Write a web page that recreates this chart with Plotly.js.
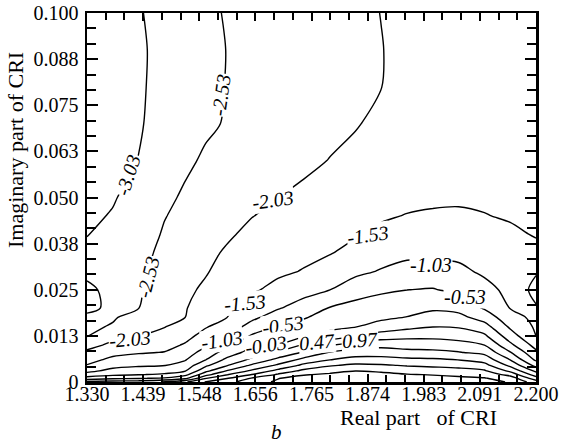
<!DOCTYPE html>
<html>
<head>
<meta charset="utf-8">
<script src="https://cdn.plot.ly/plotly-3.0.1.min.js"></script>
<style>html,body{margin:0;padding:0;background:#fff;}#chart{width:568px;height:445px;}</style>
</head>
<body>
<div id="chart"></div>
<script>
// Real part of CRI (grid columns)
const realPart = [1.33, 1.38, 1.43, 1.48, 1.52, 1.56, 1.60, 1.65, 1.70, 1.75, 1.80, 1.85, 1.90, 1.95, 2.00, 2.05, 2.10, 2.15, 2.20];
// Imaginary part of CRI (grid rows)
const imagPart = [0, 0.001, 0.002, 0.003, 0.0045, 0.006, 0.008, 0.010, 0.0125, 0.015, 0.0175, 0.020, 0.025, 0.030, 0.035, 0.040, 0.045, 0.050, 0.060, 0.070, 0.080, 0.090, 0.100];
// Field values, one array per row (imagPart order)
const row00 = [0.6, 0.7, 0.75, 1.0, 1.4, 2.0, 2.3, 2.75, 3.05, 3.25, 3.35, 3.4, 3.36, 3.28, 3.2, 3.12, 3.05, 2.95, 2.2];
const row01 = [-0.31, -0.147, -0.06, 0.03, 0.353, 1.434, 1.94, 2.52, 2.948, 3.15, 3.25, 3.3, 3.27, 3.2, 3.1, 3.05, 3.0, 2.758, 1.687];
const row02 = [-0.83, -0.63, -0.555, -0.455, -0.186, 0.798, 1.42, 1.984, 2.537, 2.934, 3.05, 3.15, 3.1, 3.0, 2.95, 2.883, 2.8, 2.295, 1.23];
const row03 = [-1.16, -0.89, -0.786, -0.724, -0.559, 0.332, 0.993, 1.57, 2.126, 2.597, 2.82, 2.963, 2.897, 2.776, 2.714, 2.651, 2.534, 1.86, 0.86];
const row04 = [-1.505, -1.18, -1.092, -1.05, -0.82, -0.127, 0.416, 1.059, 1.56, 2.097, 2.42, 2.57, 2.53, 2.433, 2.376, 2.308, 2.141, 1.356, 0.31];
const row05 = [-1.69, -1.41, -1.303, -1.248, -1.061, -0.534, 0.084, 0.589, 1.116, 1.628, 1.964, 2.177, 2.163, 2.089, 2.052, 1.964, 1.776, 0.964, -0.117];
const row06 = [-1.92, -1.67, -1.572, -1.512, -1.271, -0.83, -0.323, 0.184, 0.577, 1.026, 1.501, 1.689, 1.72, 1.626, 1.595, 1.501, 1.345, 0.501, -0.426];
const row07 = [-2.225, -1.90, -1.777, -1.685, -1.482, -1.099, -0.673, -0.135, -0.022, 0.541, 0.926, 1.21, 1.325, 1.266, 1.235, 1.156, 0.975, 0.087, -0.705];
const row08 = [-2.56, -2.197, -2.032, -1.891, -1.678, -1.361, -1.045, -0.468, -0.269, -0.101, 0.143, 0.41, 0.708, 0.83, 0.841, 0.774, 0.556, -0.297, -1.035];
const row09 = [-2.6, -2.50, -2.211, -2.045, -1.861, -1.565, -1.32, -0.847, -0.514, -0.337, -0.154, -0.05, 0.151, 0.326, 0.457, 0.423, 0.162, -0.61, -1.1];
const row10 = [-2.6, -2.565, -2.388, -2.088, -2.032, -1.661, -1.544, -1.132, -0.799, -0.573, -0.328, -0.205, -0.117, -0.015, 0.158, 0.117, -0.239, -0.847, -1.15];
const row11 = [-2.45, -2.605, -2.536, -2.132, -2.065, -1.757, -1.607, -1.328, -1.064, -0.819, -0.502, -0.359, -0.277, -0.192, -0.103, -0.18, -0.577, -1.042, -1.045];
const row12 = [-2.42, -2.685, -2.595, -2.219, -2.131, -1.949, -1.732, -1.585, -1.413, -1.203, -1.038, -0.758, -0.609, -0.535, -0.5, -0.642, -0.888, -1.15, -0.98];
const row13 = [-2.65, -2.765, -2.655, -2.306, -2.198, -2.068, -1.858, -1.699, -1.602, -1.509, -1.323, -1.148, -0.995, -0.875, -0.867, -0.93, -1.105, -1.259, -1.045];
const row14 = [-2.96, -2.844, -2.714, -2.393, -2.264, -2.134, -1.983, -1.813, -1.71, -1.624, -1.555, -1.398, -1.232, -1.134, -1.127, -1.14, -1.243, -1.367, -1.45];
const row15 = [-3.04, -2.925, -2.774, -2.481, -2.33, -2.2, -2.092, -1.927, -1.818, -1.726, -1.648, -1.57, -1.451, -1.325, -1.305, -1.311, -1.381, -1.475, -1.55];
const row16 = [-3.1, -3.004, -2.833, -2.55, -2.396, -2.266, -2.19, -2.04, -1.925, -1.827, -1.74, -1.653, -1.574, -1.515, -1.482, -1.48, -1.519, -1.56, -1.58];
const row17 = [-3.17, -3.06, -2.89, -2.636, -2.462, -2.332, -2.26, -2.124, -2.033, -1.928, -1.833, -1.737, -1.644, -1.62, -1.6, -1.58, -1.58, -1.6, -1.62];
const row18 = [-3.28, -3.15, -3.022, -2.80, -2.618, -2.464, -2.416, -2.321, -2.227, -2.133, -2.018, -1.904, -1.783, -1.75, -1.7, -1.66, -1.65, -1.65, -1.66];
const row19 = [-3.36, -3.22, -3.066, -2.885, -2.746, -2.606, -2.499, -2.411, -2.324, -2.237, -2.15, -2.062, -1.922, -1.86, -1.79, -1.74, -1.71, -1.7, -1.69];
const row20 = [-3.41, -3.25, -3.08, -2.91, -2.775, -2.648, -2.517, -2.436, -2.357, -2.277, -2.197, -2.117, -2.035, -1.91, -1.84, -1.78, -1.75, -1.73, -1.71];
const row21 = [-3.43, -3.26, -3.086, -2.92, -2.786, -2.654, -2.526, -2.446, -2.365, -2.285, -2.205, -2.125, -2.04, -1.94, -1.87, -1.81, -1.77, -1.75, -1.72];
const row22 = [-3.42, -3.24, -3.06, -2.90, -2.75, -2.612, -2.504, -2.424, -2.345, -2.265, -2.186, -2.106, -2.025, -1.95, -1.88, -1.82, -1.78, -1.75, -1.72];

const contourStart = -3.03, contourEnd = 3.47, contourStep = 0.5;

const xTickVals = [1.33, 1.43875, 1.5475, 1.65625, 1.765, 1.87375, 1.9825, 2.09125, 2.2];
const xTickText = ['1.330', '1.439', '1.548', '1.656', '1.765', '1.874', '1.983', '2.091', '2.200'];
const yTickVals = [0, 0.0125, 0.025, 0.0375, 0.05, 0.0625, 0.075, 0.0875, 0.1];
const yTickText = ['0', '0.013', '0.025', '0.038', '0.050', '0.063', '0.075', '0.088', '0.100'];

// contour labels: text, position (data), angle
const labelText = ['-3.03', '-2.53', '-2.03', '-2.53', '-2.03', '-1.53', '-1.53', '-1.03', '-1.03', '-0.53', '-0.53', '-0.03', '0.47', '0.97'];
const labelX = [1.4094, 1.5896, 1.6904, 1.4482, 1.4133, 1.8745, 1.6361, 1.5916, 1.9965, 1.7098, 2.0624, 1.6768, 1.7756, 1.859];
const labelY = [0.0561, 0.0778, 0.0493, 0.02846, 0.01165, 0.0398, 0.0214, 0.01138, 0.0317, 0.01545, 0.0230, 0.01003, 0.01084, 0.01138];
const labelAngle = [-72, -82, -8, -76, -5, -8, -5, -8, 0, -8, 0, -8, -5, -3];

const z = [row00,row01,row02,row03,row04,row05,row06,row07,row08,row09,row10,row11,row12,row13,row14,row15,row16,row17,row18,row19,row20,row21,row22];

const serif = '"Liberation Serif", serif';

const trace = {
  type: 'contour',
  x: realPart, y: imagPart, z: z,
  contours: {coloring: 'lines', start: contourStart, end: contourEnd, size: contourStep, showlabels: false},
  colorscale: [[0, '#000'], [1, '#000']],
  showscale: false,
  line: {width: 1.4, smoothing: 0.85},
  hoverinfo: 'skip'
};

const annotations = labelText.map((t, i) => ({
  x: labelX[i], y: labelY[i], xref: 'x', yref: 'y',
  text: '<i>' + t + '</i>', showarrow: false, textangle: labelAngle[i],
  font: {family: serif, size: 20, color: '#000'},
  bgcolor: '#fff', borderpad: 0
}));

annotations.push({
  x: 0.739, y: -0.097, xref: 'paper', yref: 'paper',
  text: 'Real part\u00a0\u00a0 of CRI', showarrow: false,
  font: {family: serif, size: 22, color: '#000'}, xanchor: 'center', yanchor: 'middle'
});
annotations.push({
  x: -0.158, y: 0.629, xref: 'paper', yref: 'paper',
  text: 'Imaginary part of CRI', showarrow: false, textangle: -90,
  font: {family: serif, size: 22, color: '#000'}, xanchor: 'center', yanchor: 'middle'
});
annotations.push({
  x: 0.421, y: -0.1355, xref: 'paper', yref: 'paper',
  text: '<i>b</i>', showarrow: false,
  font: {family: serif, size: 21, color: '#000'}, xanchor: 'center', yanchor: 'middle'
});

const axisCommon = {
  showgrid: false, zeroline: false, showline: true, linecolor: '#000', linewidth: 2.5,
  mirror: 'ticks', ticks: 'inside', tickcolor: '#000', tickwidth: 2,
  tickfont: {family: serif, size: 20, color: '#000'}
};

const layout = {
  width: 568, height: 445,
  margin: {l: 87, r: 32, t: 13, b: 63},
  paper_bgcolor: '#fff', plot_bgcolor: '#fff',
  showlegend: false,
  font: {family: serif, color: '#000'},
  xaxis: Object.assign({}, axisCommon, {
    range: [1.33, 2.2], tickmode: 'array', tickvals: xTickVals, ticktext: xTickText, ticklen: 8,
    ticklabelstandoff: -8,
    minor: {tick0: 1.33, dtick: 0.03625, ticks: 'inside', ticklen: 7, tickwidth: 2, tickcolor: '#000'}
  }),
  yaxis: Object.assign({}, axisCommon, {
    range: [0, 0.1], tickmode: 'array', tickvals: yTickVals, ticktext: yTickText, ticklen: 11,
    ticklabelstandoff: 2,
    minor: {tick0: 0, dtick: 0.0125 / 3, ticks: 'inside', ticklen: 9, tickwidth: 2, tickcolor: '#000'}
  }),
  annotations: annotations
};

Plotly.newPlot('chart', [trace], layout, {displayModeBar: false, staticPlot: true});
</script>
</body>
</html>
